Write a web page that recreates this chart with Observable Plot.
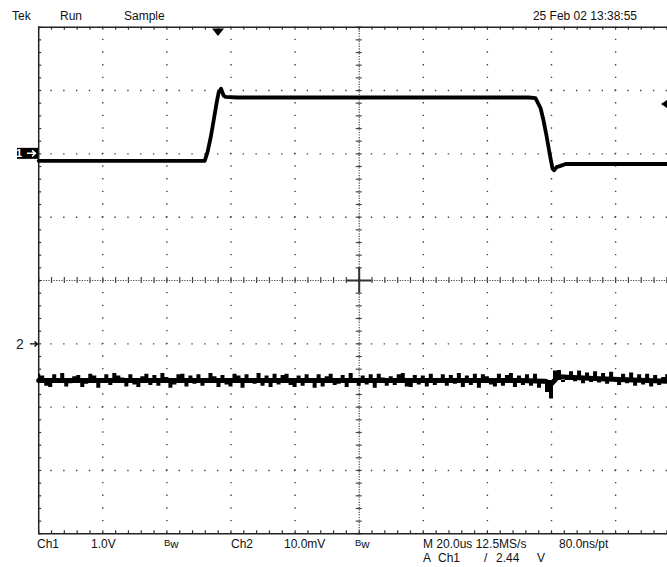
<!DOCTYPE html>
<html><head><meta charset="utf-8">
<script src="https://cdn.jsdelivr.net/npm/d3@7"></script>
<script src="https://cdn.jsdelivr.net/npm/@observablehq/plot@0.6"></script>
<style>
html,body{margin:0;padding:0;background:#fff;overflow:hidden;}
#chart{position:relative;width:667px;height:567px;overflow:hidden;}
svg{display:block;}
</style></head><body><div id="chart"></div>
<script>
// ---------------- data ----------------
const headerLabels = [["Tek", 12], ["Run", 60], ["Sample", 124]];
const dateLabel = "25 Feb 02 13:38:55";
const footerRow1 = [["Ch1", 37], ["1.0V", 91], ["Bw", 164], ["Ch2", 231], ["10.0mV", 284], ["Bw", 355], ["M 20.0us 12.5MS/s", 423], ["80.0ns/pt", 559]];
const footerRow2 = [["A", 423], ["Ch1", 438], ["/", 484], ["2.44", 496], ["V", 537]];

const timeDomain = [0, 200];          // us across 10 divisions (20.0 us/div)
const divDomain = [-4, 4];            // vertical divisions
const gridTimes = [20, 40, 60, 80, 120, 140, 160, 180];
const gridDivs = [-3, -2, -1, 1, 2, 3];
const centerTime = 100, centerDiv = 0;

const ch1Offset = 2.0;    // Ch1 ground, divisions above centre (1.0 V/div)
const ch2Offset = -1.01;  // Ch2 ground, divisions (10.0 mV/div)
const triggerTime = 56.1; // us
const triggerLevelV = 0.78;

const ch1Time = [0,10,20,30,40,50,51.8,
  52.7,53.7,54.6,55.5,56.1,56.9,57.7,58.3,
  62,70,80,90,100,110,120,130,140,150,153,
  155.0,156.6,157.5,158.5,159.4,160.3,160.8,161.6,162.8,164.4,
  170,180,190,200];
const ch1Volts = [-0.11,-0.11,-0.11,-0.11,-0.11,-0.11,-0.11,
  0.03,0.27,0.53,0.80,0.96,1.03,0.92,0.90,
  0.89,0.89,0.89,0.89,0.89,0.89,0.89,0.89,0.89,0.89,0.89,
  0.88,0.72,0.53,0.27,0.01,-0.23,-0.26,-0.21,-0.19,-0.16,
  -0.16,-0.16,-0.16,-0.16];

// Ch2: mean level of the noise band
const ch2LevelmV = -5.7;
const ch2CoreTime = [0, 150, 158, 160, 162, 175, 200];
const ch2CoremV   = [-5.7, -5.7, -5.8, -6.2, -5.1, -5.4, -5.9];
// Ch2: noisy samples (band extremes)
const ch2SampleStep = 1.25; // us between plotted samples
const ch2mV = [
  -4.7,-5.0,-6.6,-6.8,-4.8,-5.9,-4.6,-6.7,-6.2,-5.1,
  -4.9,-6.8,-6.3,-4.7,-5.0,-6.9,-5.6,-4.8,-6.5,-4.6,
  -5.0,-5.3,-6.7,-4.8,-6.4,-6.8,-5.1,-4.7,-6.5,-4.9,
  -6.6,-4.6,-5.2,-6.9,-6.4,-4.8,-4.7,-6.7,-5.0,-6.3,
  -4.8,-6.6,-6.1,-4.6,-5.1,-6.8,-4.9,-6.4,-6.7,-4.7,
  -5.0,-6.9,-4.8,-5.4,-6.3,-4.6,-6.6,-5.0,-6.8,-4.7,
  -6.4,-4.9,-4.7,-6.5,-6.8,-5.0,-6.6,-4.8,-5.5,-6.9,
  -4.8,-6.7,-5.1,-4.7,-6.5,-6.3,-4.9,-6.8,-4.6,-5.8,
  -6.6,-5.0,-6.4,-4.8,-6.9,-4.7,-5.3,-6.6,-5.1,-6.5,
  -4.8,-4.6,-6.7,-6.8,-4.9,-6.4,-5.0,-6.7,-4.7,-6.5,
  -5.9,-4.8,-6.6,-4.9,-6.3,-4.6,-6.8,-5.0,-6.5,-4.7,
  -6.9,-4.8,-5.1,-6.4,-6.7,-4.7,-6.6,-4.9,-4.6,-6.8,
  -5.0,-6.5,-4.8,-6.6,-4.7,-6.9,-6.2,-7.6,-8.6,-4.2,
  -4.1,-6.0,-5.0,-4.3,-5.9,-4.2,-6.2,-4.5,-6.0,-4.3,
  -6.1,-4.6,-6.3,-4.4,-5.6,-6.5,-4.7,-6.2,-4.5,-6.6,
  -4.8,-6.4,-4.7,-6.7,-4.9,-6.5,-5.2,-4.8,-6.8,-5.0,-6.6];

// ---------------- derived tables ----------------
const ch1 = ch1Time.map((t, i) => ({t, y: ch1Volts[i] / 1.0 + ch1Offset}));
const ch2 = ch2mV.map((v, i) => ({t: i * ch2SampleStep, y: v / 10 + ch2Offset}));
const ch2Core = ch2CoreTime.map((t, i) => ({t, y: ch2CoremV[i] / 10 + ch2Offset}));
const ch2Level = ch2LevelmV / 10 + ch2Offset;
const subX = d3.range(timeDomain[0], timeDomain[1] + 0.01, 4);   // 1/5 division
const subY = d3.range(divDomain[0], divDomain[1] + 0.01, 0.2);

const pxX = 641 / 200, pxY = 506.6 / 8;
const tickT = 3 / pxX, tickD = 3 / pxY;
const dotCol = "#444";

const plot = Plot.plot({
  width: 667, height: 567,
  margin: 0,
  x: {domain: timeDomain, range: [38.2, 679.2], axis: null},
  y: {domain: divDomain, range: [533.3, 26.7], axis: null},
  marks: [
    // dotted graticule
    Plot.ruleX(gridTimes, {y1: -4, y2: 4, stroke: dotCol, strokeWidth: 1.4, strokeDasharray: `1.4 ${(506.6/40 - 1.4).toFixed(3)}`, strokeDashoffset: 0.7}),
    Plot.ruleY(gridDivs, {x1: 0, x2: 200, stroke: dotCol, strokeWidth: 1.4, strokeDasharray: `1.4 ${(641/50 - 1.4).toFixed(3)}`, strokeDashoffset: 0.7}),
    // centre lines (dense dots + ticks)
    Plot.ruleX([centerTime], {y1: -4, y2: 4, stroke: dotCol, strokeWidth: 1.2, strokeDasharray: `1.2 ${(506.6/200 - 1.2).toFixed(3)}`}),
    Plot.ruleY([centerDiv], {x1: 0, x2: 200, stroke: dotCol, strokeWidth: 1.2, strokeDasharray: `1.2 ${(641/250 - 1.2).toFixed(3)}`}),
    Plot.ruleY(subY, {x1: centerTime - tickT, x2: centerTime + tickT, stroke: dotCol, strokeWidth: 1.2}),
    Plot.ruleX(subX, {y1: centerDiv - tickD, y2: centerDiv + tickD, stroke: dotCol, strokeWidth: 1.2}),
    Plot.ruleX([centerTime], {y1: -0.2, y2: 0.2, stroke: "#333", strokeWidth: 2}),
    Plot.ruleY([centerDiv], {x1: centerTime - 4, x2: centerTime + 4, stroke: "#333", strokeWidth: 2}),
    // border ticks
    Plot.ruleX(subX, {y1: 4, y2: 4 - tickD, stroke: "#333", strokeWidth: 1.2}),
    Plot.ruleX(subX, {y1: -4, y2: -4 + tickD, stroke: "#333", strokeWidth: 1.2}),
    Plot.ruleY(subY, {x1: 0, x2: tickT, stroke: "#333", strokeWidth: 1.2}),
    // border
    Plot.ruleX([0], {y1: -4, y2: 4, stroke: "#222", strokeWidth: 1.5}),
    Plot.ruleY([4, -4], {x1: 0, x2: 200, stroke: "#222", strokeWidth: 1.5}),
    // traces
    Plot.areaY(ch2, {x: "t", y1: ch2Level, y2: "y", fill: "#000", curve: "step"}),
    Plot.line(ch2Core, {x: "t", y: "y", stroke: "#000", strokeWidth: 5}),
    Plot.line(ch1, {x: "t", y: "y", stroke: "#000", strokeWidth: 3.8}),
  ]
});
document.getElementById("chart").appendChild(plot);

// ---------------- annotations ----------------
const X = plot.scale("x").apply, Y = plot.scale("y").apply;
const svg = d3.select(plot);
const font = "'Liberation Sans', Arial, sans-serif";
function label(txt, x, y, anchor = "start") {
  const t = svg.append("text").attr("x", x).attr("y", y).attr("font-family", font)
    .attr("font-size", 12).attr("fill", "#111").attr("text-anchor", anchor);
  if (txt === "Bw") {
    t.append("tspan").attr("font-size", 9.5).attr("dy", -2).text("B");
    t.append("tspan").attr("font-size", 11.5).attr("dy", 2).text("w");
  } else t.text(txt);
  return t;
}
headerLabels.forEach(([s, x]) => label(s, x, 20));
label(dateLabel, 637, 20, "end");
footerRow1.forEach(([s, x]) => label(s, x, 548));
footerRow2.forEach(([s, x]) => label(s, x, 562));

// Ch1 ground marker
const y1 = Y(ch1Offset);
svg.append("rect").attr("x", 17).attr("y", y1 - 5.5).attr("width", 21).attr("height", 11).attr("fill", "#000");
svg.append("text").attr("x", 19).attr("y", y1 + 4).attr("font-family", font).attr("font-size", 11).attr("font-weight", "bold").attr("fill", "#fff").text("1");
svg.append("path").attr("d", `M27,${y1} H35 M32,${y1-3} L35.5,${y1} L32,${y1+3}`).attr("stroke", "#fff").attr("stroke-width", 1.5).attr("fill", "none");
// Ch2 ground marker
const y2 = Y(ch2Offset);
svg.append("text").attr("x", 20).attr("y", y2 + 5).attr("font-family", font).attr("font-size", 14).attr("fill", "#222").text("2");
svg.append("path").attr("d", `M30,${y2} H37 M34.5,${y2-2.5} L37.5,${y2} L34.5,${y2+2.5}`).attr("stroke", "#000").attr("stroke-width", 1.3).attr("fill", "none");
// trigger position marker (top) and trigger level marker (right)
const tx = X(triggerTime);
svg.append("path").attr("d", `M${tx-6},28.5 L${tx+6},28.5 L${tx},36 Z`).attr("fill", "#000");
const ty = Y(triggerLevelV + ch1Offset);
svg.append("path").attr("d", `M661,${ty} L667,${ty-4} L667,${ty+4} Z`).attr("fill", "#000");
</script></body></html>
